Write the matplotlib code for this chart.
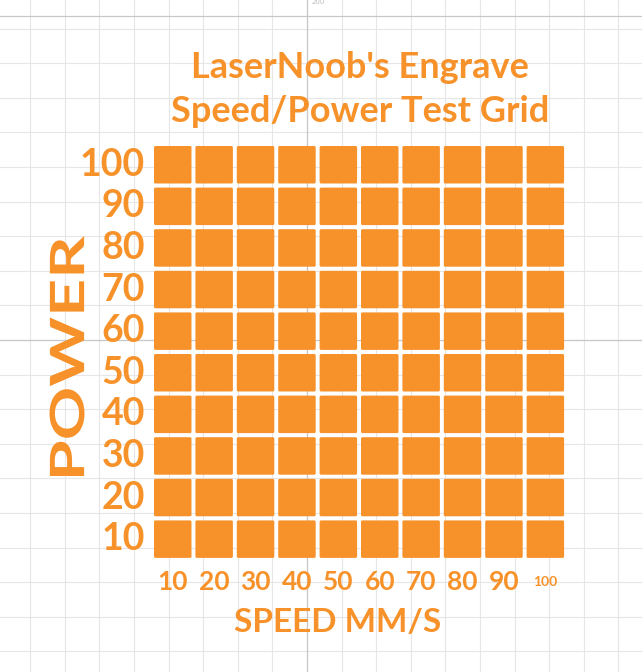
import matplotlib
matplotlib.use("Agg")
import matplotlib.pyplot as plt
from matplotlib.patches import FancyBboxPatch, PathPatch
from matplotlib.textpath import TextPath
from matplotlib.font_manager import FontProperties
from matplotlib.transforms import Affine2D
import numpy as np

speeds = [10, 20, 30, 40, 50, 60, 70, 80, 90, 100]
powers = [100, 90, 80, 70, 60, 50, 40, 30, 20, 10]
title_lines = ["LaserNoob's Engrave", "Speed/Power Test Grid"]
orange = "#F7922A"

W, H = 642, 672
fig = plt.figure(figsize=(W / 100, H / 100), dpi=100)
ax = fig.add_axes([0, 0, 1, 1])
ax.set_xlim(0, W)
ax.set_ylim(H, 0)
ax.axis("off")

# background canvas grid
step = 34.6
for x in np.arange(307 - 9 * step, W, step):
    ax.axvline(x, color="#e6e6e6", lw=0.8, zorder=0)
for y in np.arange(340 - 10 * step, H, step):
    ax.axhline(y, color="#e6e6e6", lw=0.8, zorder=0)
ax.axvline(307, color="#c8c8c8", lw=0.9, zorder=0)
ax.axhline(340, color="#c8c8c8", lw=0.9, zorder=0)
ax.axhline(16, color="#c8c8c8", lw=0.9, zorder=0)
ax.text(318, 2, "200", fontsize=5, color="#bbbbbb", ha="center", va="center")

fnt = "Lato"
x0, y0, pitch_x, pitch_y, size = 154, 146, 41.4, 41.6, 37.5
for i, p in enumerate(powers):
    for j, s in enumerate(speeds):
        ax.add_patch(FancyBboxPatch((x0 + j * pitch_x + 1.5, y0 + i * pitch_y + 1.5),
                                    size - 3, size - 3,
                                    boxstyle="round,pad=1.5", fc=orange, ec="none", zorder=2))
    ax.text(145, y0 + i * pitch_y + size / 2, str(p), fontsize=27, color=orange,
            ha="right", va="center", family=fnt, weight="bold")

for j, s in enumerate(speeds):
    ax.text(x0 + j * pitch_x + size / 2, 582, str(s), fontsize=10 if s == 100 else 19,
            color=orange, ha="center", va="center", family=fnt, weight="bold")

ax.text(360, 68, title_lines[0], fontsize=26, color=orange, ha="center", va="center",
        family=fnt, weight="bold")
ax.text(360, 112, title_lines[1], fontsize=26, color=orange, ha="center", va="center",
        family=fnt, weight="bold")
ax.text(338, 622, "SPEED MM/S", fontsize=24, color=orange, ha="center", va="center",
        family=fnt, weight="bold")

# stretched vertical "POWER" label (condensed in the original)
tp = TextPath((0, 0), "POWER", size=1, prop=FontProperties(family=fnt, weight="bold"))
ext = tp.get_extents()
length, height = 240, 35
tr = (Affine2D().translate(-ext.x0 - ext.width / 2, -ext.y0 - ext.height / 2)
      .scale(length / ext.width, height / ext.height)
      .rotate_deg(90).scale(1, -1).translate(67, 356))
ax.add_patch(PathPatch(tr.transform_path(tp), fc=orange, ec="none", zorder=3))

fig.savefig("out.png", dpi=100)
